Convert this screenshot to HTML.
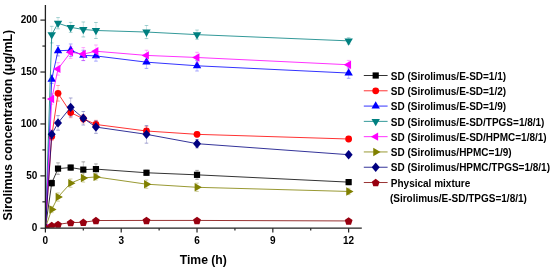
<!DOCTYPE html>
<html><head><meta charset="utf-8"><style>
html,body{margin:0;padding:0;background:#fff;}
body{width:550px;height:269px;overflow:hidden;}
svg{display:block;will-change:transform;}
text{font-family:"Liberation Sans",sans-serif;font-weight:bold;fill:#000;}
.tk{font-size:10px;}
.at{font-size:12.2px;}
.yl{font-size:12.4px;}
.lg{font-size:10px;}
</style></head><body>
<svg width="550" height="269" viewBox="0 0 550 269">
<defs><clipPath id="pc"><rect x="45.4" y="0" width="330" height="227.8"/></clipPath></defs>
<g clip-path="url(#pc)">
<path d="M51.72 180.03V186.26" stroke="#000000" stroke-width="0.6" opacity="0.35" fill="none"/>
<path d="M49.92 180.03h3.6M49.92 186.26h3.6" stroke="#000000" stroke-width="0.8" opacity="0.45" fill="none"/>
<path d="M58.03 162.89V174.32" stroke="#000000" stroke-width="0.6" opacity="0.35" fill="none"/>
<path d="M56.23 162.89h3.6M56.23 174.32h3.6" stroke="#000000" stroke-width="0.8" opacity="0.45" fill="none"/>
<path d="M70.67 164.97V170.16" stroke="#000000" stroke-width="0.6" opacity="0.35" fill="none"/>
<path d="M68.87 164.97h3.6M68.87 170.16h3.6" stroke="#000000" stroke-width="0.8" opacity="0.45" fill="none"/>
<path d="M83.31 161.86V177.43" stroke="#000000" stroke-width="0.6" opacity="0.35" fill="none"/>
<path d="M81.51 161.86h3.6M81.51 177.43h3.6" stroke="#000000" stroke-width="0.8" opacity="0.45" fill="none"/>
<path d="M95.94 163.93V174.32" stroke="#000000" stroke-width="0.6" opacity="0.35" fill="none"/>
<path d="M94.14 163.93h3.6M94.14 174.32h3.6" stroke="#000000" stroke-width="0.8" opacity="0.45" fill="none"/>
<path d="M146.48 170.16V175.36" stroke="#000000" stroke-width="0.6" opacity="0.35" fill="none"/>
<path d="M144.68 170.16h3.6M144.68 175.36h3.6" stroke="#000000" stroke-width="0.8" opacity="0.45" fill="none"/>
<path d="M197.02 170.37V179.30" stroke="#000000" stroke-width="0.6" opacity="0.35" fill="none"/>
<path d="M195.22 170.37h3.6M195.22 179.30h3.6" stroke="#000000" stroke-width="0.8" opacity="0.45" fill="none"/>
<path d="M348.64 179.51V184.70" stroke="#000000" stroke-width="0.6" opacity="0.35" fill="none"/>
<path d="M346.84 179.51h3.6M346.84 184.70h3.6" stroke="#000000" stroke-width="0.8" opacity="0.45" fill="none"/>
<polyline points="45.40,227.80 51.72,183.14 58.03,168.61 70.67,167.57 83.31,169.64 95.94,169.12 146.48,172.76 197.02,174.84 348.64,182.11" fill="none" stroke="#000000" stroke-width="1" stroke-opacity="0.8"/>
<rect x="42.30" y="224.70" width="6.2" height="6.2" fill="#000000"/>
<rect x="48.62" y="180.04" width="6.2" height="6.2" fill="#000000"/>
<rect x="54.93" y="165.51" width="6.2" height="6.2" fill="#000000"/>
<rect x="67.57" y="164.47" width="6.2" height="6.2" fill="#000000"/>
<rect x="80.21" y="166.54" width="6.2" height="6.2" fill="#000000"/>
<rect x="92.84" y="166.02" width="6.2" height="6.2" fill="#000000"/>
<rect x="143.38" y="169.66" width="6.2" height="6.2" fill="#000000"/>
<rect x="193.92" y="171.74" width="6.2" height="6.2" fill="#000000"/>
<rect x="345.54" y="179.01" width="6.2" height="6.2" fill="#000000"/>
<path d="M51.72 132.26V140.57" stroke="#ff0000" stroke-width="0.6" opacity="0.35" fill="none"/>
<path d="M49.92 132.26h3.6M49.92 140.57h3.6" stroke="#ff0000" stroke-width="0.8" opacity="0.45" fill="none"/>
<path d="M58.03 85.53V101.10" stroke="#ff0000" stroke-width="0.6" opacity="0.35" fill="none"/>
<path d="M56.23 85.53h3.6M56.23 101.10h3.6" stroke="#ff0000" stroke-width="0.8" opacity="0.45" fill="none"/>
<path d="M70.67 107.33V117.72" stroke="#ff0000" stroke-width="0.6" opacity="0.35" fill="none"/>
<path d="M68.87 107.33h3.6M68.87 117.72h3.6" stroke="#ff0000" stroke-width="0.8" opacity="0.45" fill="none"/>
<path d="M83.31 114.60V122.91" stroke="#ff0000" stroke-width="0.6" opacity="0.35" fill="none"/>
<path d="M81.51 114.60h3.6M81.51 122.91h3.6" stroke="#ff0000" stroke-width="0.8" opacity="0.45" fill="none"/>
<path d="M95.94 120.32V128.62" stroke="#ff0000" stroke-width="0.6" opacity="0.35" fill="none"/>
<path d="M94.14 120.32h3.6M94.14 128.62h3.6" stroke="#ff0000" stroke-width="0.8" opacity="0.45" fill="none"/>
<path d="M146.48 126.55V135.48" stroke="#ff0000" stroke-width="0.6" opacity="0.35" fill="none"/>
<path d="M144.68 126.55h3.6M144.68 135.48h3.6" stroke="#ff0000" stroke-width="0.8" opacity="0.45" fill="none"/>
<path d="M197.02 131.74V136.93" stroke="#ff0000" stroke-width="0.6" opacity="0.35" fill="none"/>
<path d="M195.22 131.74h3.6M195.22 136.93h3.6" stroke="#ff0000" stroke-width="0.8" opacity="0.45" fill="none"/>
<path d="M348.64 136.41V141.60" stroke="#ff0000" stroke-width="0.6" opacity="0.35" fill="none"/>
<path d="M346.84 136.41h3.6M346.84 141.60h3.6" stroke="#ff0000" stroke-width="0.8" opacity="0.45" fill="none"/>
<polyline points="45.40,227.80 51.72,136.41 58.03,93.31 70.67,112.53 83.31,118.76 95.94,124.47 146.48,131.01 197.02,134.34 348.64,139.01" fill="none" stroke="#ff0000" stroke-width="1" stroke-opacity="0.8"/>
<circle cx="45.40" cy="227.80" r="3.4" fill="#ff0000"/>
<circle cx="51.72" cy="136.41" r="3.4" fill="#ff0000"/>
<circle cx="58.03" cy="93.31" r="3.4" fill="#ff0000"/>
<circle cx="70.67" cy="112.53" r="3.4" fill="#ff0000"/>
<circle cx="83.31" cy="118.76" r="3.4" fill="#ff0000"/>
<circle cx="95.94" cy="124.47" r="3.4" fill="#ff0000"/>
<circle cx="146.48" cy="131.01" r="3.4" fill="#ff0000"/>
<circle cx="197.02" cy="134.34" r="3.4" fill="#ff0000"/>
<circle cx="348.64" cy="139.01" r="3.4" fill="#ff0000"/>
<path d="M51.72 75.14V83.45" stroke="#0000ff" stroke-width="0.6" opacity="0.35" fill="none"/>
<path d="M49.92 75.14h3.6M49.92 83.45h3.6" stroke="#0000ff" stroke-width="0.8" opacity="0.45" fill="none"/>
<path d="M58.03 45.54V55.93" stroke="#0000ff" stroke-width="0.6" opacity="0.35" fill="none"/>
<path d="M56.23 45.54h3.6M56.23 55.93h3.6" stroke="#0000ff" stroke-width="0.8" opacity="0.45" fill="none"/>
<path d="M70.67 43.99V56.45" stroke="#0000ff" stroke-width="0.6" opacity="0.35" fill="none"/>
<path d="M68.87 43.99h3.6M68.87 56.45h3.6" stroke="#0000ff" stroke-width="0.8" opacity="0.45" fill="none"/>
<path d="M83.31 50.22V60.60" stroke="#0000ff" stroke-width="0.6" opacity="0.35" fill="none"/>
<path d="M81.51 50.22h3.6M81.51 60.60h3.6" stroke="#0000ff" stroke-width="0.8" opacity="0.45" fill="none"/>
<path d="M95.94 50.74V61.12" stroke="#0000ff" stroke-width="0.6" opacity="0.35" fill="none"/>
<path d="M94.14 50.74h3.6M94.14 61.12h3.6" stroke="#0000ff" stroke-width="0.8" opacity="0.45" fill="none"/>
<path d="M146.48 55.93V68.39" stroke="#0000ff" stroke-width="0.6" opacity="0.35" fill="none"/>
<path d="M144.68 55.93h3.6M144.68 68.39h3.6" stroke="#0000ff" stroke-width="0.8" opacity="0.45" fill="none"/>
<path d="M197.02 60.60V70.99" stroke="#0000ff" stroke-width="0.6" opacity="0.35" fill="none"/>
<path d="M195.22 60.60h3.6M195.22 70.99h3.6" stroke="#0000ff" stroke-width="0.8" opacity="0.45" fill="none"/>
<path d="M348.64 67.87V78.26" stroke="#0000ff" stroke-width="0.6" opacity="0.35" fill="none"/>
<path d="M346.84 67.87h3.6M346.84 78.26h3.6" stroke="#0000ff" stroke-width="0.8" opacity="0.45" fill="none"/>
<polyline points="45.40,227.80 51.72,79.29 58.03,50.74 70.67,50.22 83.31,55.41 95.94,55.93 146.48,62.16 197.02,65.79 348.64,73.06" fill="none" stroke="#0000ff" stroke-width="1" stroke-opacity="0.8"/>
<polygon points="45.40,222.95 49.60,230.22 41.20,230.22" fill="#0000ff"/>
<polygon points="51.72,74.44 55.92,81.72 47.52,81.72" fill="#0000ff"/>
<polygon points="58.03,45.89 62.23,53.16 53.83,53.16" fill="#0000ff"/>
<polygon points="70.67,45.37 74.87,52.64 66.47,52.64" fill="#0000ff"/>
<polygon points="83.31,50.56 87.51,57.83 79.11,57.83" fill="#0000ff"/>
<polygon points="95.94,51.08 100.14,58.35 91.74,58.35" fill="#0000ff"/>
<polygon points="146.48,57.31 150.68,64.58 142.28,64.58" fill="#0000ff"/>
<polygon points="197.02,60.94 201.22,68.22 192.82,68.22" fill="#0000ff"/>
<polygon points="348.64,68.21 352.84,75.49 344.44,75.49" fill="#0000ff"/>
<path d="M51.72 26.33V42.95" stroke="#008080" stroke-width="0.6" opacity="0.35" fill="none"/>
<path d="M49.92 26.33h3.6M49.92 42.95h3.6" stroke="#008080" stroke-width="0.8" opacity="0.45" fill="none"/>
<path d="M58.03 17.61V28.82" stroke="#008080" stroke-width="0.6" opacity="0.35" fill="none"/>
<path d="M56.23 17.61h3.6M56.23 28.82h3.6" stroke="#008080" stroke-width="0.8" opacity="0.45" fill="none"/>
<path d="M70.67 22.38V32.35" stroke="#008080" stroke-width="0.6" opacity="0.35" fill="none"/>
<path d="M68.87 22.38h3.6M68.87 32.35h3.6" stroke="#008080" stroke-width="0.8" opacity="0.45" fill="none"/>
<path d="M83.31 21.97V36.92" stroke="#008080" stroke-width="0.6" opacity="0.35" fill="none"/>
<path d="M81.51 21.97h3.6M81.51 36.92h3.6" stroke="#008080" stroke-width="0.8" opacity="0.45" fill="none"/>
<path d="M95.94 22.49V38.48" stroke="#008080" stroke-width="0.6" opacity="0.35" fill="none"/>
<path d="M94.14 22.49h3.6M94.14 38.48h3.6" stroke="#008080" stroke-width="0.8" opacity="0.45" fill="none"/>
<path d="M146.48 25.50V38.59" stroke="#008080" stroke-width="0.6" opacity="0.35" fill="none"/>
<path d="M144.68 25.50h3.6M144.68 38.59h3.6" stroke="#008080" stroke-width="0.8" opacity="0.45" fill="none"/>
<path d="M197.02 30.07V39.21" stroke="#008080" stroke-width="0.6" opacity="0.35" fill="none"/>
<path d="M195.22 30.07h3.6M195.22 39.21h3.6" stroke="#008080" stroke-width="0.8" opacity="0.45" fill="none"/>
<path d="M348.64 37.75V43.99" stroke="#008080" stroke-width="0.6" opacity="0.35" fill="none"/>
<path d="M346.84 37.75h3.6M346.84 43.99h3.6" stroke="#008080" stroke-width="0.8" opacity="0.45" fill="none"/>
<polyline points="45.40,227.80 51.72,34.64 58.03,23.22 70.67,27.37 83.31,29.45 95.94,30.49 146.48,32.04 197.02,34.64 348.64,40.87" fill="none" stroke="#008080" stroke-width="1" stroke-opacity="0.8"/>
<polygon points="45.40,232.65 49.60,225.38 41.20,225.38" fill="#008080"/>
<polygon points="51.72,39.49 55.92,32.21 47.52,32.21" fill="#008080"/>
<polygon points="58.03,28.07 62.23,20.79 53.83,20.79" fill="#008080"/>
<polygon points="70.67,32.22 74.87,24.94 66.47,24.94" fill="#008080"/>
<polygon points="83.31,34.30 87.51,27.02 79.11,27.02" fill="#008080"/>
<polygon points="95.94,35.33 100.14,28.06 91.74,28.06" fill="#008080"/>
<polygon points="146.48,36.89 150.68,29.62 142.28,29.62" fill="#008080"/>
<polygon points="197.02,39.49 201.22,32.21 192.82,32.21" fill="#008080"/>
<polygon points="348.64,45.72 352.84,38.45 344.44,38.45" fill="#008080"/>
<path d="M51.72 93.83V104.22" stroke="#ff00ff" stroke-width="0.6" opacity="0.35" fill="none"/>
<path d="M49.92 93.83h3.6M49.92 104.22h3.6" stroke="#ff00ff" stroke-width="0.8" opacity="0.45" fill="none"/>
<path d="M58.03 62.68V75.14" stroke="#ff00ff" stroke-width="0.6" opacity="0.35" fill="none"/>
<path d="M56.23 62.68h3.6M56.23 75.14h3.6" stroke="#ff00ff" stroke-width="0.8" opacity="0.45" fill="none"/>
<path d="M70.67 46.27V58.32" stroke="#ff00ff" stroke-width="0.6" opacity="0.35" fill="none"/>
<path d="M68.87 46.27h3.6M68.87 58.32h3.6" stroke="#ff00ff" stroke-width="0.8" opacity="0.45" fill="none"/>
<path d="M83.31 47.62V60.50" stroke="#ff00ff" stroke-width="0.6" opacity="0.35" fill="none"/>
<path d="M81.51 47.62h3.6M81.51 60.50h3.6" stroke="#ff00ff" stroke-width="0.8" opacity="0.45" fill="none"/>
<path d="M95.94 45.02V57.49" stroke="#ff00ff" stroke-width="0.6" opacity="0.35" fill="none"/>
<path d="M94.14 45.02h3.6M94.14 57.49h3.6" stroke="#ff00ff" stroke-width="0.8" opacity="0.45" fill="none"/>
<path d="M146.48 50.22V60.60" stroke="#ff00ff" stroke-width="0.6" opacity="0.35" fill="none"/>
<path d="M144.68 50.22h3.6M144.68 60.60h3.6" stroke="#ff00ff" stroke-width="0.8" opacity="0.45" fill="none"/>
<path d="M197.02 52.29V62.68" stroke="#ff00ff" stroke-width="0.6" opacity="0.35" fill="none"/>
<path d="M195.22 52.29h3.6M195.22 62.68h3.6" stroke="#ff00ff" stroke-width="0.8" opacity="0.45" fill="none"/>
<path d="M348.64 60.39V69.12" stroke="#ff00ff" stroke-width="0.6" opacity="0.35" fill="none"/>
<path d="M346.84 60.39h3.6M346.84 69.12h3.6" stroke="#ff00ff" stroke-width="0.8" opacity="0.45" fill="none"/>
<polyline points="45.40,227.80 51.72,99.03 58.03,68.91 70.67,52.29 83.31,54.06 95.94,51.26 146.48,55.41 197.02,57.49 348.64,64.76" fill="none" stroke="#ff00ff" stroke-width="1" stroke-opacity="0.8"/>
<polygon points="40.55,227.80 47.82,223.60 47.82,232.00" fill="#ff00ff"/>
<polygon points="46.87,99.03 54.14,94.83 54.14,103.23" fill="#ff00ff"/>
<polygon points="53.19,68.91 60.46,64.71 60.46,73.11" fill="#ff00ff"/>
<polygon points="65.82,52.29 73.09,48.09 73.09,56.49" fill="#ff00ff"/>
<polygon points="78.46,54.06 85.73,49.86 85.73,58.26" fill="#ff00ff"/>
<polygon points="91.09,51.26 98.36,47.06 98.36,55.46" fill="#ff00ff"/>
<polygon points="141.63,55.41 148.90,51.21 148.90,59.61" fill="#ff00ff"/>
<polygon points="192.17,57.49 199.44,53.29 199.44,61.69" fill="#ff00ff"/>
<polygon points="343.79,64.76 351.06,60.56 351.06,68.96" fill="#ff00ff"/>
<path d="M51.72 206.41V212.64" stroke="#808000" stroke-width="0.6" opacity="0.35" fill="none"/>
<path d="M49.92 206.41h3.6M49.92 212.64h3.6" stroke="#808000" stroke-width="0.8" opacity="0.45" fill="none"/>
<path d="M58.03 192.91V201.21" stroke="#808000" stroke-width="0.6" opacity="0.35" fill="none"/>
<path d="M56.23 192.91h3.6M56.23 201.21h3.6" stroke="#808000" stroke-width="0.8" opacity="0.45" fill="none"/>
<path d="M70.67 178.99V187.30" stroke="#808000" stroke-width="0.6" opacity="0.35" fill="none"/>
<path d="M68.87 178.99h3.6M68.87 187.30h3.6" stroke="#808000" stroke-width="0.8" opacity="0.45" fill="none"/>
<path d="M83.31 173.80V182.11" stroke="#808000" stroke-width="0.6" opacity="0.35" fill="none"/>
<path d="M81.51 173.80h3.6M81.51 182.11h3.6" stroke="#808000" stroke-width="0.8" opacity="0.45" fill="none"/>
<path d="M95.94 173.80V180.03" stroke="#808000" stroke-width="0.6" opacity="0.35" fill="none"/>
<path d="M94.14 173.80h3.6M94.14 180.03h3.6" stroke="#808000" stroke-width="0.8" opacity="0.45" fill="none"/>
<path d="M146.48 180.03V188.34" stroke="#808000" stroke-width="0.6" opacity="0.35" fill="none"/>
<path d="M144.68 180.03h3.6M144.68 188.34h3.6" stroke="#808000" stroke-width="0.8" opacity="0.45" fill="none"/>
<path d="M197.02 183.14V191.45" stroke="#808000" stroke-width="0.6" opacity="0.35" fill="none"/>
<path d="M195.22 183.14h3.6M195.22 191.45h3.6" stroke="#808000" stroke-width="0.8" opacity="0.45" fill="none"/>
<path d="M348.64 188.34V194.57" stroke="#808000" stroke-width="0.6" opacity="0.35" fill="none"/>
<path d="M346.84 188.34h3.6M346.84 194.57h3.6" stroke="#808000" stroke-width="0.8" opacity="0.45" fill="none"/>
<polyline points="45.40,227.80 51.72,209.52 58.03,197.06 70.67,183.14 83.31,177.95 95.94,176.91 146.48,184.18 197.02,187.30 348.64,191.45" fill="none" stroke="#808000" stroke-width="1" stroke-opacity="0.8"/>
<polygon points="50.25,227.80 42.98,223.60 42.98,232.00" fill="#808000"/>
<polygon points="56.57,209.52 49.29,205.32 49.29,213.72" fill="#808000"/>
<polygon points="62.88,197.06 55.61,192.86 55.61,201.26" fill="#808000"/>
<polygon points="75.52,183.14 68.25,178.94 68.25,187.34" fill="#808000"/>
<polygon points="88.15,177.95 80.88,173.75 80.88,182.15" fill="#808000"/>
<polygon points="100.79,176.91 93.52,172.71 93.52,181.11" fill="#808000"/>
<polygon points="151.33,184.18 144.06,179.98 144.06,188.38" fill="#808000"/>
<polygon points="201.87,187.30 194.60,183.10 194.60,191.50" fill="#808000"/>
<polygon points="353.49,191.45 346.22,187.25 346.22,195.65" fill="#808000"/>
<path d="M51.72 130.18V138.49" stroke="#000080" stroke-width="0.6" opacity="0.35" fill="none"/>
<path d="M49.92 130.18h3.6M49.92 138.49h3.6" stroke="#000080" stroke-width="0.8" opacity="0.45" fill="none"/>
<path d="M58.03 115.64V130.18" stroke="#000080" stroke-width="0.6" opacity="0.35" fill="none"/>
<path d="M56.23 115.64h3.6M56.23 130.18h3.6" stroke="#000080" stroke-width="0.8" opacity="0.45" fill="none"/>
<path d="M70.67 97.99V116.68" stroke="#000080" stroke-width="0.6" opacity="0.35" fill="none"/>
<path d="M68.87 97.99h3.6M68.87 116.68h3.6" stroke="#000080" stroke-width="0.8" opacity="0.45" fill="none"/>
<path d="M83.31 111.49V124.99" stroke="#000080" stroke-width="0.6" opacity="0.35" fill="none"/>
<path d="M81.51 111.49h3.6M81.51 124.99h3.6" stroke="#000080" stroke-width="0.8" opacity="0.45" fill="none"/>
<path d="M95.94 120.83V133.30" stroke="#000080" stroke-width="0.6" opacity="0.35" fill="none"/>
<path d="M94.14 120.83h3.6M94.14 133.30h3.6" stroke="#000080" stroke-width="0.8" opacity="0.45" fill="none"/>
<path d="M146.48 125.51V143.16" stroke="#000080" stroke-width="0.6" opacity="0.35" fill="none"/>
<path d="M144.68 125.51h3.6M144.68 143.16h3.6" stroke="#000080" stroke-width="0.8" opacity="0.45" fill="none"/>
<path d="M197.02 139.53V147.84" stroke="#000080" stroke-width="0.6" opacity="0.35" fill="none"/>
<path d="M195.22 139.53h3.6M195.22 147.84h3.6" stroke="#000080" stroke-width="0.8" opacity="0.45" fill="none"/>
<path d="M348.64 152.09V157.29" stroke="#000080" stroke-width="0.6" opacity="0.35" fill="none"/>
<path d="M346.84 152.09h3.6M346.84 157.29h3.6" stroke="#000080" stroke-width="0.8" opacity="0.45" fill="none"/>
<polyline points="45.40,227.80 51.72,134.34 58.03,122.91 70.67,107.33 83.31,118.24 95.94,127.07 146.48,134.34 197.02,143.68 348.64,154.69" fill="none" stroke="#000080" stroke-width="1" stroke-opacity="0.8"/>
<polygon points="45.40,223.10 49.40,227.80 45.40,232.50 41.40,227.80" fill="#000080"/>
<polygon points="51.72,129.64 55.72,134.34 51.72,139.03 47.72,134.34" fill="#000080"/>
<polygon points="58.03,118.21 62.03,122.91 58.03,127.61 54.03,122.91" fill="#000080"/>
<polygon points="70.67,102.63 74.67,107.33 70.67,112.03 66.67,107.33" fill="#000080"/>
<polygon points="83.31,113.54 87.31,118.24 83.31,122.94 79.31,118.24" fill="#000080"/>
<polygon points="95.94,122.37 99.94,127.07 95.94,131.77 91.94,127.07" fill="#000080"/>
<polygon points="146.48,129.64 150.48,134.34 146.48,139.03 142.48,134.34" fill="#000080"/>
<polygon points="197.02,138.98 201.02,143.68 197.02,148.38 193.02,143.68" fill="#000080"/>
<polygon points="348.64,149.99 352.64,154.69 348.64,159.39 344.64,154.69" fill="#000080"/>
<path d="M51.72 224.48V226.55" stroke="#800000" stroke-width="0.6" opacity="0.35" fill="none"/>
<path d="M49.92 224.48h3.6M49.92 226.55h3.6" stroke="#800000" stroke-width="0.8" opacity="0.45" fill="none"/>
<path d="M58.03 223.33V225.41" stroke="#800000" stroke-width="0.6" opacity="0.35" fill="none"/>
<path d="M56.23 223.33h3.6M56.23 225.41h3.6" stroke="#800000" stroke-width="0.8" opacity="0.45" fill="none"/>
<path d="M70.67 221.57V223.65" stroke="#800000" stroke-width="0.6" opacity="0.35" fill="none"/>
<path d="M68.87 221.57h3.6M68.87 223.65h3.6" stroke="#800000" stroke-width="0.8" opacity="0.45" fill="none"/>
<path d="M83.31 221.26V223.33" stroke="#800000" stroke-width="0.6" opacity="0.35" fill="none"/>
<path d="M81.51 221.26h3.6M81.51 223.33h3.6" stroke="#800000" stroke-width="0.8" opacity="0.45" fill="none"/>
<path d="M95.94 219.49V221.57" stroke="#800000" stroke-width="0.6" opacity="0.35" fill="none"/>
<path d="M94.14 219.49h3.6M94.14 221.57h3.6" stroke="#800000" stroke-width="0.8" opacity="0.45" fill="none"/>
<path d="M146.48 219.39V221.47" stroke="#800000" stroke-width="0.6" opacity="0.35" fill="none"/>
<path d="M144.68 219.39h3.6M144.68 221.47h3.6" stroke="#800000" stroke-width="0.8" opacity="0.45" fill="none"/>
<path d="M197.02 219.39V221.47" stroke="#800000" stroke-width="0.6" opacity="0.35" fill="none"/>
<path d="M195.22 219.39h3.6M195.22 221.47h3.6" stroke="#800000" stroke-width="0.8" opacity="0.45" fill="none"/>
<path d="M348.64 219.91V221.98" stroke="#800000" stroke-width="0.6" opacity="0.35" fill="none"/>
<path d="M346.84 219.91h3.6M346.84 221.98h3.6" stroke="#800000" stroke-width="0.8" opacity="0.45" fill="none"/>
<polyline points="45.40,227.80 51.72,225.52 58.03,224.37 70.67,222.61 83.31,222.30 95.94,220.53 146.48,220.43 197.02,220.43 348.64,220.95" fill="none" stroke="#800000" stroke-width="1" stroke-opacity="0.8"/>
<polygon points="45.40,224.10 49.30,226.93 47.81,231.52 42.99,231.52 41.50,226.93" fill="#980010"/>
<polygon points="51.72,221.82 55.62,224.65 54.13,229.23 49.31,229.23 47.82,224.65" fill="#980010"/>
<polygon points="58.03,220.67 61.93,223.51 60.44,228.09 55.63,228.09 54.14,223.51" fill="#980010"/>
<polygon points="70.67,218.91 74.57,221.74 73.08,226.32 68.26,226.32 66.77,221.74" fill="#980010"/>
<polygon points="83.31,218.60 87.20,221.43 85.71,226.01 80.90,226.01 79.41,221.43" fill="#980010"/>
<polygon points="95.94,216.83 99.84,219.66 98.35,224.25 93.53,224.25 92.04,219.66" fill="#980010"/>
<polygon points="146.48,216.73 150.38,219.56 148.89,224.14 144.07,224.14 142.58,219.56" fill="#980010"/>
<polygon points="197.02,216.73 200.92,219.56 199.43,224.14 194.61,224.14 193.12,219.56" fill="#980010"/>
<polygon points="348.64,217.25 352.54,220.08 351.05,224.66 346.23,224.66 344.74,220.08" fill="#980010"/>
</g>
<path d="M45.4 5V228.2H361.8" fill="none" stroke="#222" stroke-width="1.3"/>
<path d="M40.4 228.20H45.4" stroke="#222" stroke-width="1.2"/>
<path d="M42.4 201.84H45.4" stroke="#222" stroke-width="1.2"/>
<path d="M40.4 175.88H45.4" stroke="#222" stroke-width="1.2"/>
<path d="M42.4 149.91H45.4" stroke="#222" stroke-width="1.2"/>
<path d="M40.4 123.95H45.4" stroke="#222" stroke-width="1.2"/>
<path d="M42.4 97.99H45.4" stroke="#222" stroke-width="1.2"/>
<path d="M40.4 72.03H45.4" stroke="#222" stroke-width="1.2"/>
<path d="M42.4 46.06H45.4" stroke="#222" stroke-width="1.2"/>
<path d="M40.4 20.10H45.4" stroke="#222" stroke-width="1.2"/>
<path d="M45.40 228.2V232.5" stroke="#222" stroke-width="1.2"/>
<path d="M83.31 228.2V230.60000000000002" stroke="#222" stroke-width="1.2"/>
<path d="M121.21 228.2V232.5" stroke="#222" stroke-width="1.2"/>
<path d="M159.12 228.2V230.60000000000002" stroke="#222" stroke-width="1.2"/>
<path d="M197.02 228.2V232.5" stroke="#222" stroke-width="1.2"/>
<path d="M234.93 228.2V230.60000000000002" stroke="#222" stroke-width="1.2"/>
<path d="M272.83 228.2V232.5" stroke="#222" stroke-width="1.2"/>
<path d="M310.73 228.2V230.60000000000002" stroke="#222" stroke-width="1.2"/>
<path d="M348.64 228.2V232.5" stroke="#222" stroke-width="1.2"/>
<text x="37.4" y="230.80" text-anchor="end" class="tk">0</text>
<text x="37.4" y="178.88" text-anchor="end" class="tk">50</text>
<text x="37.4" y="126.95" text-anchor="end" class="tk">100</text>
<text x="37.4" y="75.03" text-anchor="end" class="tk">150</text>
<text x="37.4" y="23.10" text-anchor="end" class="tk">200</text>
<text x="45.40" y="244" text-anchor="middle" class="tk">0</text>
<text x="121.21" y="244" text-anchor="middle" class="tk">3</text>
<text x="197.02" y="244" text-anchor="middle" class="tk">6</text>
<text x="272.83" y="244" text-anchor="middle" class="tk">9</text>
<text x="348.64" y="244" text-anchor="middle" class="tk">12</text>
<text x="179.7" y="264" class="at">Time (h)</text>
<text transform="translate(12.3 125.2) rotate(-90)" text-anchor="middle" class="yl">Sirolimus concentration (μg/mL)</text>
<path d="M363.8 75.5H387.6" stroke="#000000" stroke-width="1" stroke-opacity="0.8"/>
<rect x="372.60" y="72.40" width="6.2" height="6.2" fill="#000000"/>
<text x="390.8" y="79.70" class="lg">SD (Sirolimus/E-SD=1/1)</text>
<path d="M363.8 90.78999999999999H387.6" stroke="#ff0000" stroke-width="1" stroke-opacity="0.8"/>
<circle cx="375.70" cy="90.79" r="3.4" fill="#ff0000"/>
<text x="390.8" y="94.99" class="lg">SD (Sirolimus/E-SD=1/2)</text>
<path d="M363.8 106.08H387.6" stroke="#0000ff" stroke-width="1" stroke-opacity="0.8"/>
<polygon points="375.70,101.23 379.90,108.50 371.50,108.50" fill="#0000ff"/>
<text x="390.8" y="110.28" class="lg">SD (Sirolimus/E-SD=1/9)</text>
<path d="M363.8 121.37H387.6" stroke="#008080" stroke-width="1" stroke-opacity="0.8"/>
<polygon points="375.70,126.22 379.90,118.95 371.50,118.95" fill="#008080"/>
<text x="390.8" y="125.57" class="lg">SD (Sirolimus/E-SD/TPGS=1/8/1)</text>
<path d="M363.8 136.66H387.6" stroke="#ff00ff" stroke-width="1" stroke-opacity="0.8"/>
<polygon points="370.85,136.66 378.12,132.46 378.12,140.86" fill="#ff00ff"/>
<text x="390.8" y="140.86" class="lg">SD (Sirolimus/E-SD/HPMC=1/8/1)</text>
<path d="M363.8 151.95H387.6" stroke="#808000" stroke-width="1" stroke-opacity="0.8"/>
<polygon points="380.55,151.95 373.28,147.75 373.28,156.15" fill="#808000"/>
<text x="390.8" y="156.15" class="lg">SD (Sirolimus/HPMC=1/9)</text>
<path d="M363.8 167.24H387.6" stroke="#000080" stroke-width="1" stroke-opacity="0.8"/>
<polygon points="375.70,162.54 379.70,167.24 375.70,171.94 371.70,167.24" fill="#000080"/>
<text x="390.8" y="171.44" class="lg">SD (Sirolimus/HPMC/TPGS=1/8/1)</text>
<path d="M363.8 182.53H387.6" stroke="#800000" stroke-width="1" stroke-opacity="0.8"/>
<polygon points="375.70,178.83 379.60,181.66 378.11,186.25 373.29,186.25 371.80,181.66" fill="#980010"/>
<text x="390.8" y="186.73" class="lg">Physical mixture</text>
<text x="389.9" y="202.02" class="lg">(Sirolimus/E-SD/TPGS=1/8/1)</text>
</svg>
</body></html>
